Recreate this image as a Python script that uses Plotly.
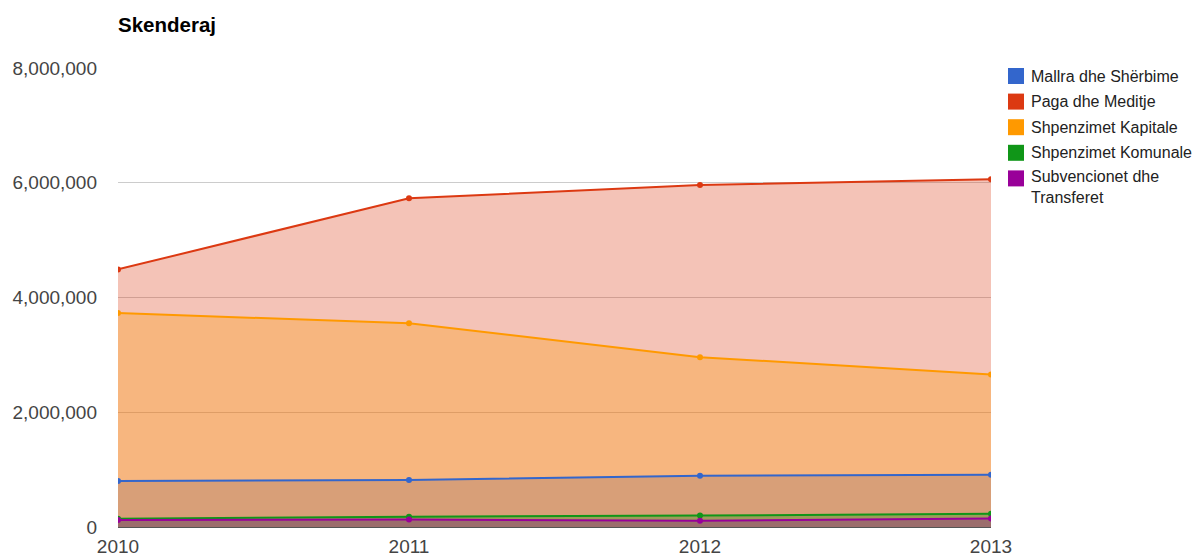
import plotly.graph_objects as go

years = [2010, 2011, 2012, 2013]
series_names = ["Mallra dhe Shërbime", "Paga dhe Meditje", "Shpenzimet Kapitale",
                "Shpenzimet Komunale", "Subvencionet dhe<br>Transferet"]
mallra = [800000, 820000, 895000, 910000]
paga = [4490000, 5730000, 5960000, 6060000]
kapitale = [3730000, 3550000, 2960000, 2660000]
komunale = [145000, 180000, 200000, 230000]
subvencionet = [120000, 130000, 110000, 150000]
y_ticks = [0, 2000000, 4000000, 6000000, 8000000]

colors = ["#3366cc", "#dc3912", "#ff9900", "#109618", "#990099"]
fills = ["rgba(51,102,204,0.3)", "rgba(220,57,18,0.3)", "rgba(255,153,0,0.3)",
         "rgba(16,150,24,0.3)", "rgba(153,0,153,0.3)"]
values = [mallra, paga, kapitale, komunale, subvencionet]

# page body has an 8px margin; size the figure so the drawing lands where the reference has it
OFF = 8
W, H = 1201 - OFF, 558 - OFF
L, R, T, B = 118 - OFF, 210, 68 - OFF, 31
pw, ph = W - L - R, H - T - B

TICK_FONT = dict(size=19, color="#444444", family="Liberation Sans, Arial")

fig = go.Figure()
# areas first
for name, vals, f in zip(series_names, values, fills):
    fig.add_trace(go.Scatter(
        x=years, y=vals, name=name.replace("<br>", " "), mode="lines",
        line=dict(width=0, color=f), fill="tozeroy", fillcolor=f,
        showlegend=False, hoverinfo="skip"))
# lines and points on top
for name, vals, c in zip(series_names, values, colors):
    fig.add_trace(go.Scatter(
        x=years, y=vals, name=name.replace("<br>", " "), mode="lines+markers",
        line=dict(color=c, width=2), marker=dict(color=c, size=6),
        showlegend=False))

# legend drawn as squares + text (positions in page pixels)
shapes = []
annotations = []
row_centers = [76, 101.6, 127.2, 152.8, 178.4]
LEG_FONT = dict(size=16, color="#222222", family="Liberation Sans, Arial")
for i, (name, c) in enumerate(zip(series_names, colors)):
    cy = row_centers[i] - OFF
    shapes.append(dict(type="rect", xref="paper", yref="paper",
                       x0=(1008 - OFF - L) / pw, x1=(1024 - OFF - L) / pw,
                       y0=(H - B - (cy - 8)) / ph, y1=(H - B - (cy + 8)) / ph,
                       fillcolor=c, line=dict(width=0)))
    if "<br>" in name:
        ytext = cy - 11
        annotations.append(dict(xref="paper", yref="paper", x=(1030 - OFF - L) / pw,
                                y=(H - B - ytext) / ph, xanchor="left", yanchor="top",
                                text=name, showarrow=False, align="left",
                                borderpad=0, font=LEG_FONT))
    else:
        annotations.append(dict(xref="paper", yref="paper", x=(1030 - OFF - L) / pw,
                                y=(H - B - cy) / ph, xanchor="left", yanchor="middle",
                                text=name, showarrow=False, borderpad=0,
                                font=LEG_FONT))

fig.update_layout(
    width=W, height=H,
    margin=dict(l=L, r=R, t=T, b=B, pad=0, autoexpand=False),
    paper_bgcolor="white", plot_bgcolor="white",
    font=dict(family="Liberation Sans, Arial", color="#444444"),
    title=dict(text="<b>Skenderaj</b>", xref="container", yref="container",
               x=L / W, xanchor="left", y=1 - (25 - OFF) / H, yanchor="middle",
               font=dict(size=20.5, color="#000000", family="Liberation Sans, Arial")),
    xaxis=dict(range=[2010, 2013], tickvals=years, tickformat="d",
               showgrid=False, zeroline=False, showline=False, automargin=False,
               tickfont=TICK_FONT, ticks="",
               ticklabelstandoff=6, fixedrange=True),
    yaxis=dict(range=[0, 8000000], tickvals=y_ticks, tickformat=",d",
               showgrid=True, gridcolor="#cccccc", gridwidth=1, automargin=False,
               zeroline=True, zerolinecolor="#555555", zerolinewidth=1,
               showline=False, ticks="", tickfont=TICK_FONT,
               ticklabelstandoff=20, fixedrange=True),
    shapes=shapes, annotations=annotations, showlegend=False,
)

fig.write_html("out.html")
